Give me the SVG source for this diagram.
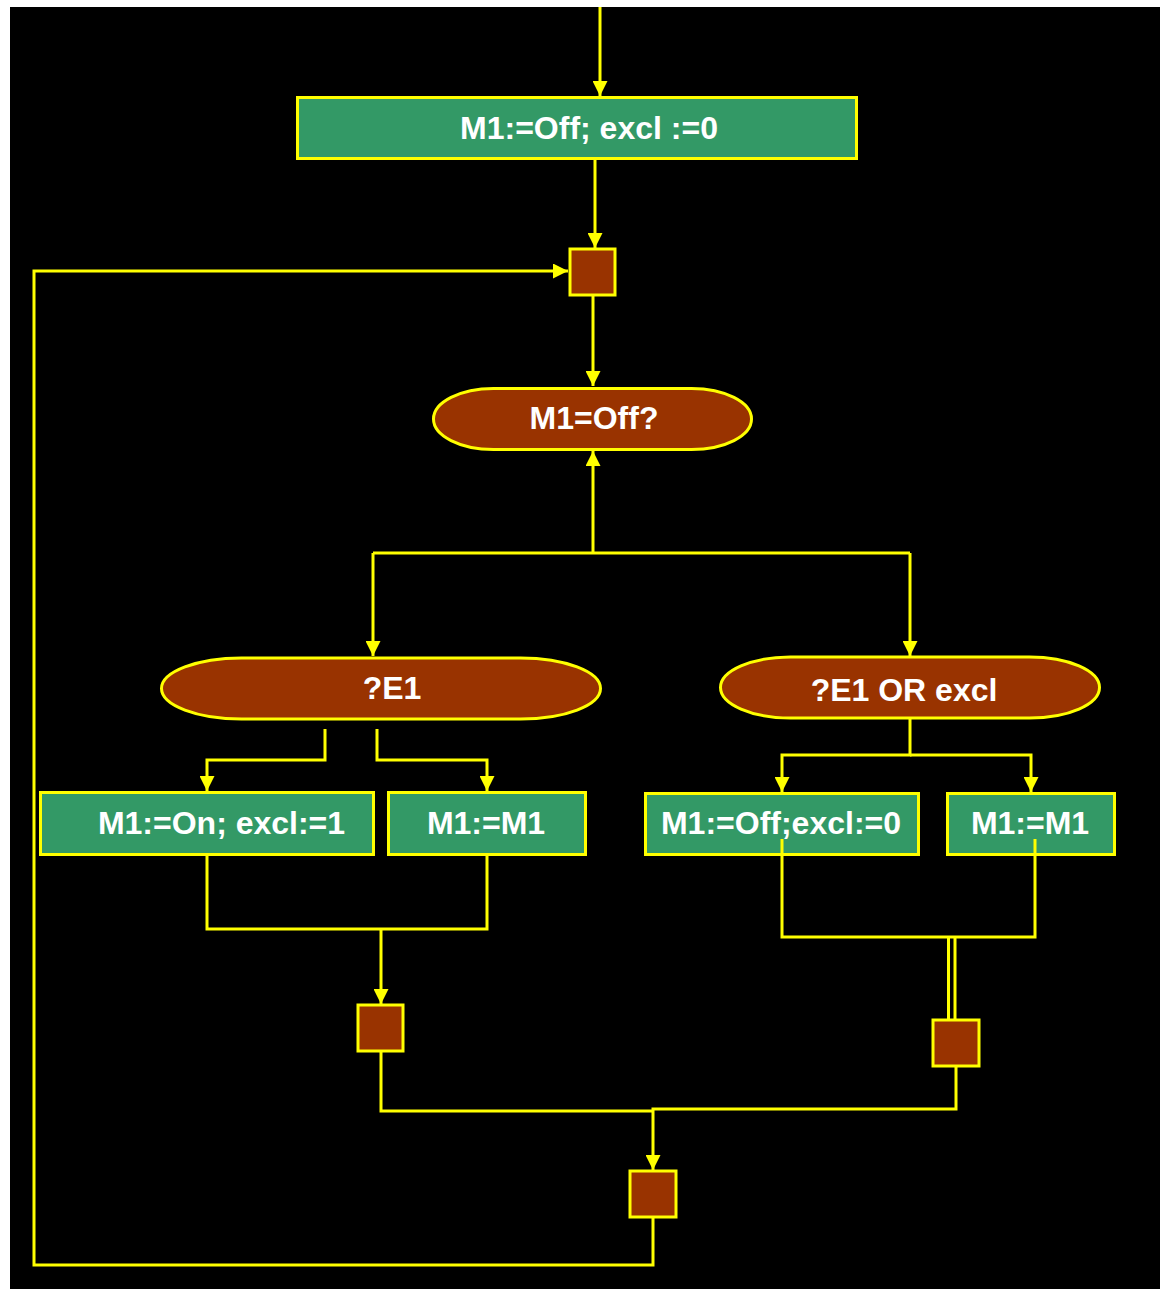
<svg xmlns="http://www.w3.org/2000/svg" width="1160" height="1289" viewBox="0 0 1160 1289">
  <style>
    .wire { fill: none; stroke: #FFFF00; stroke-width: 3; }
    .act { fill: #339966; stroke: #FFFF00; stroke-width: 3; }
    .dec { fill: #993300; stroke: #FFFF00; stroke-width: 3; }
    .sync { fill: #993300; stroke: #FFFF00; stroke-width: 3; }
    .lbl { fill: #FFFFFF; font-family: "Liberation Sans", Arial, sans-serif; font-weight: bold; font-size: 32px; text-anchor: middle; }
  </style>
  <defs>
    <marker id="arrow" viewBox="0 0 10 10" refX="10" refY="5" markerWidth="15" markerHeight="15" markerUnits="userSpaceOnUse" orient="auto">
      <path d="M0,0 L10,5 L0,10 Z" fill="#FFFF00"/>
    </marker>
  </defs>

  <rect x="0" y="0" width="1160" height="1289" fill="#FFFFFF"/>
  <rect x="10" y="7" width="1150" height="1282" fill="#000000"/>

  <!-- connectors -->
  <g id="connectors">
    <path class="wire" d="M600,7 V96" marker-end="url(#arrow)"/>
    <path class="wire" d="M595,158 V248" marker-end="url(#arrow)"/>
    <path class="wire" d="M593,295 V386" marker-end="url(#arrow)"/>
    <path class="wire" d="M593,553 V451" marker-end="url(#arrow)"/>
    <path class="wire" d="M373,553 H910"/>
    <path class="wire" d="M373,553 V656" marker-end="url(#arrow)"/>
    <path class="wire" d="M910,553 V656" marker-end="url(#arrow)"/>
    <!-- ?E1 branches -->
    <path class="wire" d="M325,729 V760 H207 V791" marker-end="url(#arrow)"/>
    <path class="wire" d="M377,729 V760 H487 V791" marker-end="url(#arrow)"/>
    <!-- ?E1 OR excl branches -->
    <path class="wire" d="M910,718 V755 H782 V792" marker-end="url(#arrow)"/>
    <path class="wire" d="M910,755 H1031 V792" marker-end="url(#arrow)"/>
    <!-- left join -->
    <path class="wire" d="M207,854 V929 H487 V854"/>
    <path class="wire" d="M381,929 V1004" marker-end="url(#arrow)"/>
    <!-- right join -->
    <path class="wire" d="M782,840 V937 H1035 V840"/>
    <path class="wire" d="M948.5,937 V1020"/>
    <path class="wire" d="M955,937 V1020"/>
    <!-- final join -->
    <path class="wire" d="M381,1051 V1111 H653"/>
    <path class="wire" d="M956,1066 V1109 H653 V1170" marker-end="url(#arrow)"/>
    <!-- loop back -->
    <path class="wire" d="M653,1217 V1265 H34 V271 H568" marker-end="url(#arrow)"/>
  </g>

  <g id="init">
    <rect class="act" x="297.5" y="97.5" width="559" height="61"/>
    <text class="lbl" x="589" y="139">M1:=Off; excl :=0</text>
  </g>

  <g id="sync-top">
    <rect class="sync" x="570" y="249" width="45" height="46"/>
  </g>

  <g id="test-off">
    <rect class="dec" x="433.5" y="388.5" width="318" height="61" rx="60" ry="30.5"/>
    <text class="lbl" x="594" y="429">M1=Off?</text>
  </g>

  <g id="test-e1">
    <rect class="dec" x="161.5" y="658" width="439" height="61" rx="80" ry="30.5"/>
    <text class="lbl" x="392" y="699">?E1</text>
  </g>

  <g id="test-e1-excl">
    <rect class="dec" x="720.5" y="657" width="379" height="61" rx="70" ry="30.5"/>
    <text class="lbl" x="904" y="701">?E1 OR excl</text>
  </g>

  <g id="set-on">
    <rect class="act" x="40.5" y="792.5" width="333" height="62"/>
    <text class="lbl" x="221.5" y="834">M1:=On; excl:=1</text>
  </g>

  <g id="keep-left">
    <rect class="act" x="388.5" y="792.5" width="197" height="62"/>
    <text class="lbl" x="486" y="834">M1:=M1</text>
  </g>

  <g id="set-off">
    <rect class="act" x="645.5" y="793.5" width="273" height="61"/>
    <text class="lbl" x="781" y="834">M1:=Off;excl:=0</text>
  </g>

  <g id="keep-right">
    <rect class="act" x="947.5" y="793.5" width="167" height="61"/>
    <text class="lbl" x="1030" y="834">M1:=M1</text>
  </g>

  <!-- right branch lines continue over the boxes -->
  <g id="connectors-over">
    <path class="wire" d="M782,839 V856"/>
    <path class="wire" d="M1035,839 V856"/>
  </g>

  <g id="sync-left">
    <rect class="sync" x="358" y="1005" width="45" height="46"/>
  </g>

  <g id="sync-right">
    <rect class="sync" x="933" y="1020" width="46" height="46"/>
  </g>

  <g id="sync-bottom">
    <rect class="sync" x="630" y="1171" width="46" height="46"/>
  </g>
</svg>
